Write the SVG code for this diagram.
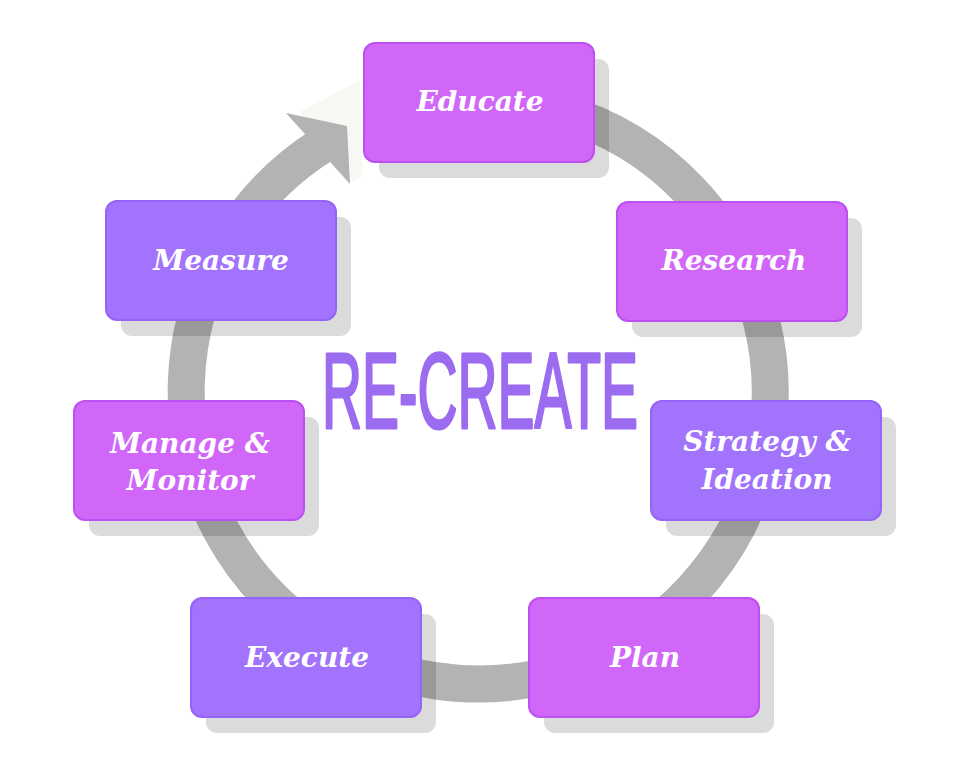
<svg xmlns="http://www.w3.org/2000/svg" width="956" height="766" viewBox="0 0 956 766">
  <style>
    .ring { fill: none; stroke: #b3b3b3; stroke-width: 37; }
    .head { fill: #b3b3b3; }
    .ghost { fill: #f7f7f4; }
    .shadow { fill: #000; fill-opacity: 0.14; }
    .box { stroke-width: 2; }
    .mag { fill: #d067f9; stroke: #bc50f0; }
    .pur { fill: #a273fd; stroke: #9563f6; }
    .lbl { font-family: "DejaVu Serif", "Liberation Serif", serif; font-weight: bold; font-style: italic; font-size: 28px; fill: #ffffff; text-anchor: middle; }
    .title { font-family: "Liberation Sans", Arial, sans-serif; font-size: 107px; fill: #9b6cf0; stroke: #9b6cf0; stroke-width: 3; stroke-linejoin: round; }
  </style>
  <rect width="956" height="766" fill="#ffffff"/>

  <g id="connectors">
    <polygon class="ghost" points="300,112 360,80 362,176 350,182"/>
    <path class="ring" d="M 427.3 104.4 A 292 292 0 1 1 323.3 144.4"/>
    <polygon class="head" points="286,113 347,126 350,184"/>
  </g>

  <g id="shadows">
    <rect class="shadow" x="379" y="59" width="230" height="119" rx="11"/>
    <rect class="shadow" x="632" y="218" width="230" height="119" rx="11"/>
    <rect class="shadow" x="666" y="417" width="230" height="119" rx="11"/>
    <rect class="shadow" x="544" y="614" width="230" height="119" rx="11"/>
    <rect class="shadow" x="206" y="614" width="230" height="119" rx="11"/>
    <rect class="shadow" x="89" y="417" width="230" height="119" rx="11"/>
    <rect class="shadow" x="121" y="217" width="230" height="119" rx="11"/>
  </g>

  <g id="title">
    <text class="title" transform="translate(322,428) scale(0.518,1)" x="0" y="0">RE-CREATE</text>
  </g>

  <g id="educate">
    <rect class="box mag" x="364" y="43" width="230" height="119" rx="11"/>
    <text class="lbl" x="480" y="111">Educate</text>
  </g>
  <g id="research">
    <rect class="box mag" x="617" y="202" width="230" height="119" rx="11"/>
    <text class="lbl" x="734" y="270">Research</text>
  </g>
  <g id="strategy">
    <rect class="box pur" x="651" y="401" width="230" height="119" rx="11"/>
    <text class="lbl" x="767" y="451">Strategy &amp;</text>
    <text class="lbl" x="767" y="489">Ideation</text>
  </g>
  <g id="plan">
    <rect class="box mag" x="529" y="598" width="230" height="119" rx="11"/>
    <text class="lbl" x="645" y="667">Plan</text>
  </g>
  <g id="execute">
    <rect class="box pur" x="191" y="598" width="230" height="119" rx="11"/>
    <text class="lbl" x="307" y="667">Execute</text>
  </g>
  <g id="manage">
    <rect class="box mag" x="74" y="401" width="230" height="119" rx="11"/>
    <text class="lbl" x="190" y="453">Manage &amp;</text>
    <text class="lbl" x="190" y="490">Monitor</text>
  </g>
  <g id="measure">
    <rect class="box pur" x="106" y="201" width="230" height="119" rx="11"/>
    <text class="lbl" x="221" y="270">Measure</text>
  </g>
</svg>
